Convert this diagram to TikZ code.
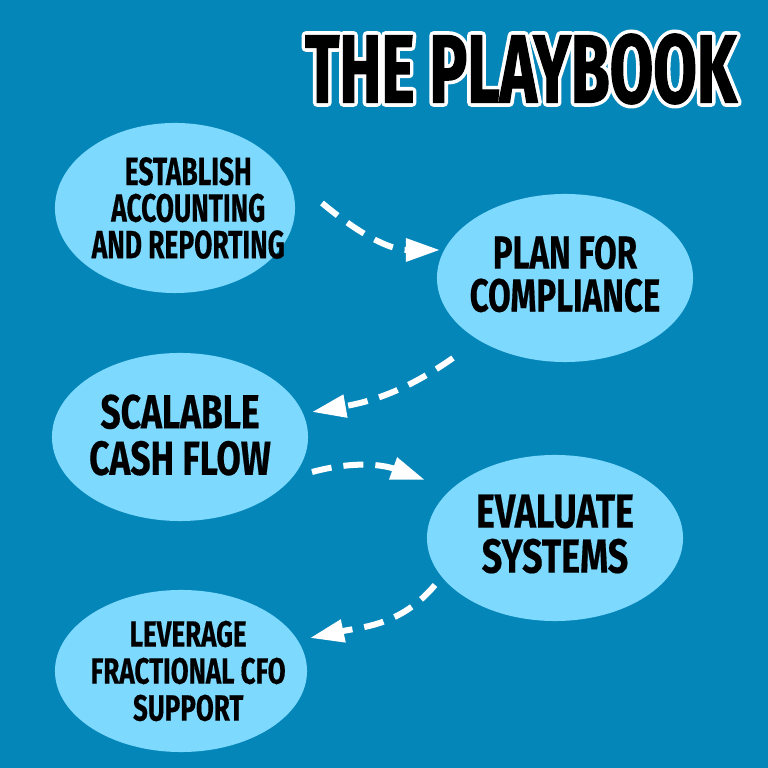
\documentclass[tikz,border=0pt]{standalone}
\usepackage{fontspec}
\usepackage{tikz}
\usetikzlibrary{shapes.geometric,arrows.meta,calc}
\newfontfamily\dinfont{Fira Sans}
\definecolor{bgblue}{RGB}{5,134,185}
\definecolor{bubblefill}{RGB}{126,217,254}
\newcommand{\whiteedge}[1]{\special{pdf:literal direct 1 Tr 1 1 1 RG 6 w 1 j}#1\special{pdf:literal direct 0 Tr}}

\begin{document}
\begin{tikzpicture}[x=0.025cm,y=0.025cm,
  bubble/.style={ellipse,fill=bubblefill,minimum width=6.4cm,minimum height=4.2cm,inner sep=0pt},
  words/.style n args={3}{align=center,text=black,font=\dinfont\bfseries\fontsize{#1}{#2}\selectfont\addfontfeatures{FakeStretch=#3,FakeBold=0.35}},
  headline/.style={inner sep=0pt,text=black,font=\dinfont\bfseries\fontsize{69}{69}\selectfont\addfontfeatures{FakeStretch=0.65,FakeBold=#1}},
  headline/.default=0]
\tikzset{flow/.style={white,line width=0.15cm,dash pattern=on 0.5cm off 0.3cm,-{Triangle[length=0.85cm,width=0.55cm]}}}
\useasboundingbox (0,0) rectangle (768,768);
\fill[bgblue] (0,0) rectangle (768,768);

\node[headline] (ttledge) at (521,699) {\whiteedge{THE PLAYBOOK}};
\node[headline=1.2] (ttl) at (ttledge) {THE PLAYBOOK};

\node[bubble,minimum width=6cm,minimum height=4.25cm,label={[words={28}{26}{0.67},xshift=0.33cm]center:ESTABLISH\\ACCOUNTING\\AND REPORTING}] (est) at (175,560) {};
\node[bubble,label={[words={33}{30.5}{0.71},yshift=0.1cm]center:PLAN FOR\\COMPLIANCE}] (plan) at (565,490) {};
\node[bubble,label={[words={34}{33}{0.74},yshift=0.05cm]center:SCALABLE\\CASH FLOW}] (cash) at (180,331) {};
\node[bubble,minimum height=4.15cm,label={[words={34}{32}{0.75},yshift=0.1cm]center:EVALUATE\\SYSTEMS}] (evalsys) at (555,230) {};
\node[bubble,minimum width=6.3cm,minimum height=4.05cm,label={[words={26}{26.3}{0.71},xshift=0.18cm]center:LEVERAGE\\FRACTIONAL CFO\\SUPPORT}] (lev) at (181,97) {};

\draw[flow] ($(est)+(147,5)$) to[out=-40,in=180] ($(plan)+(-125,28)$);
\draw[flow] ($(plan)+(-112,-80)$) to[out=215,in=10] ($(cash)+(132,25)$);
\draw[flow] ($(cash)+(132,-35)$) to[out=15,in=160] ($(evalsys)+(-130,58)$);
\draw[flow] ($(evalsys)+(-120,-47)$) to[out=230,in=12] ($(lev)+(129,33)$);
\end{tikzpicture}
\end{document}
